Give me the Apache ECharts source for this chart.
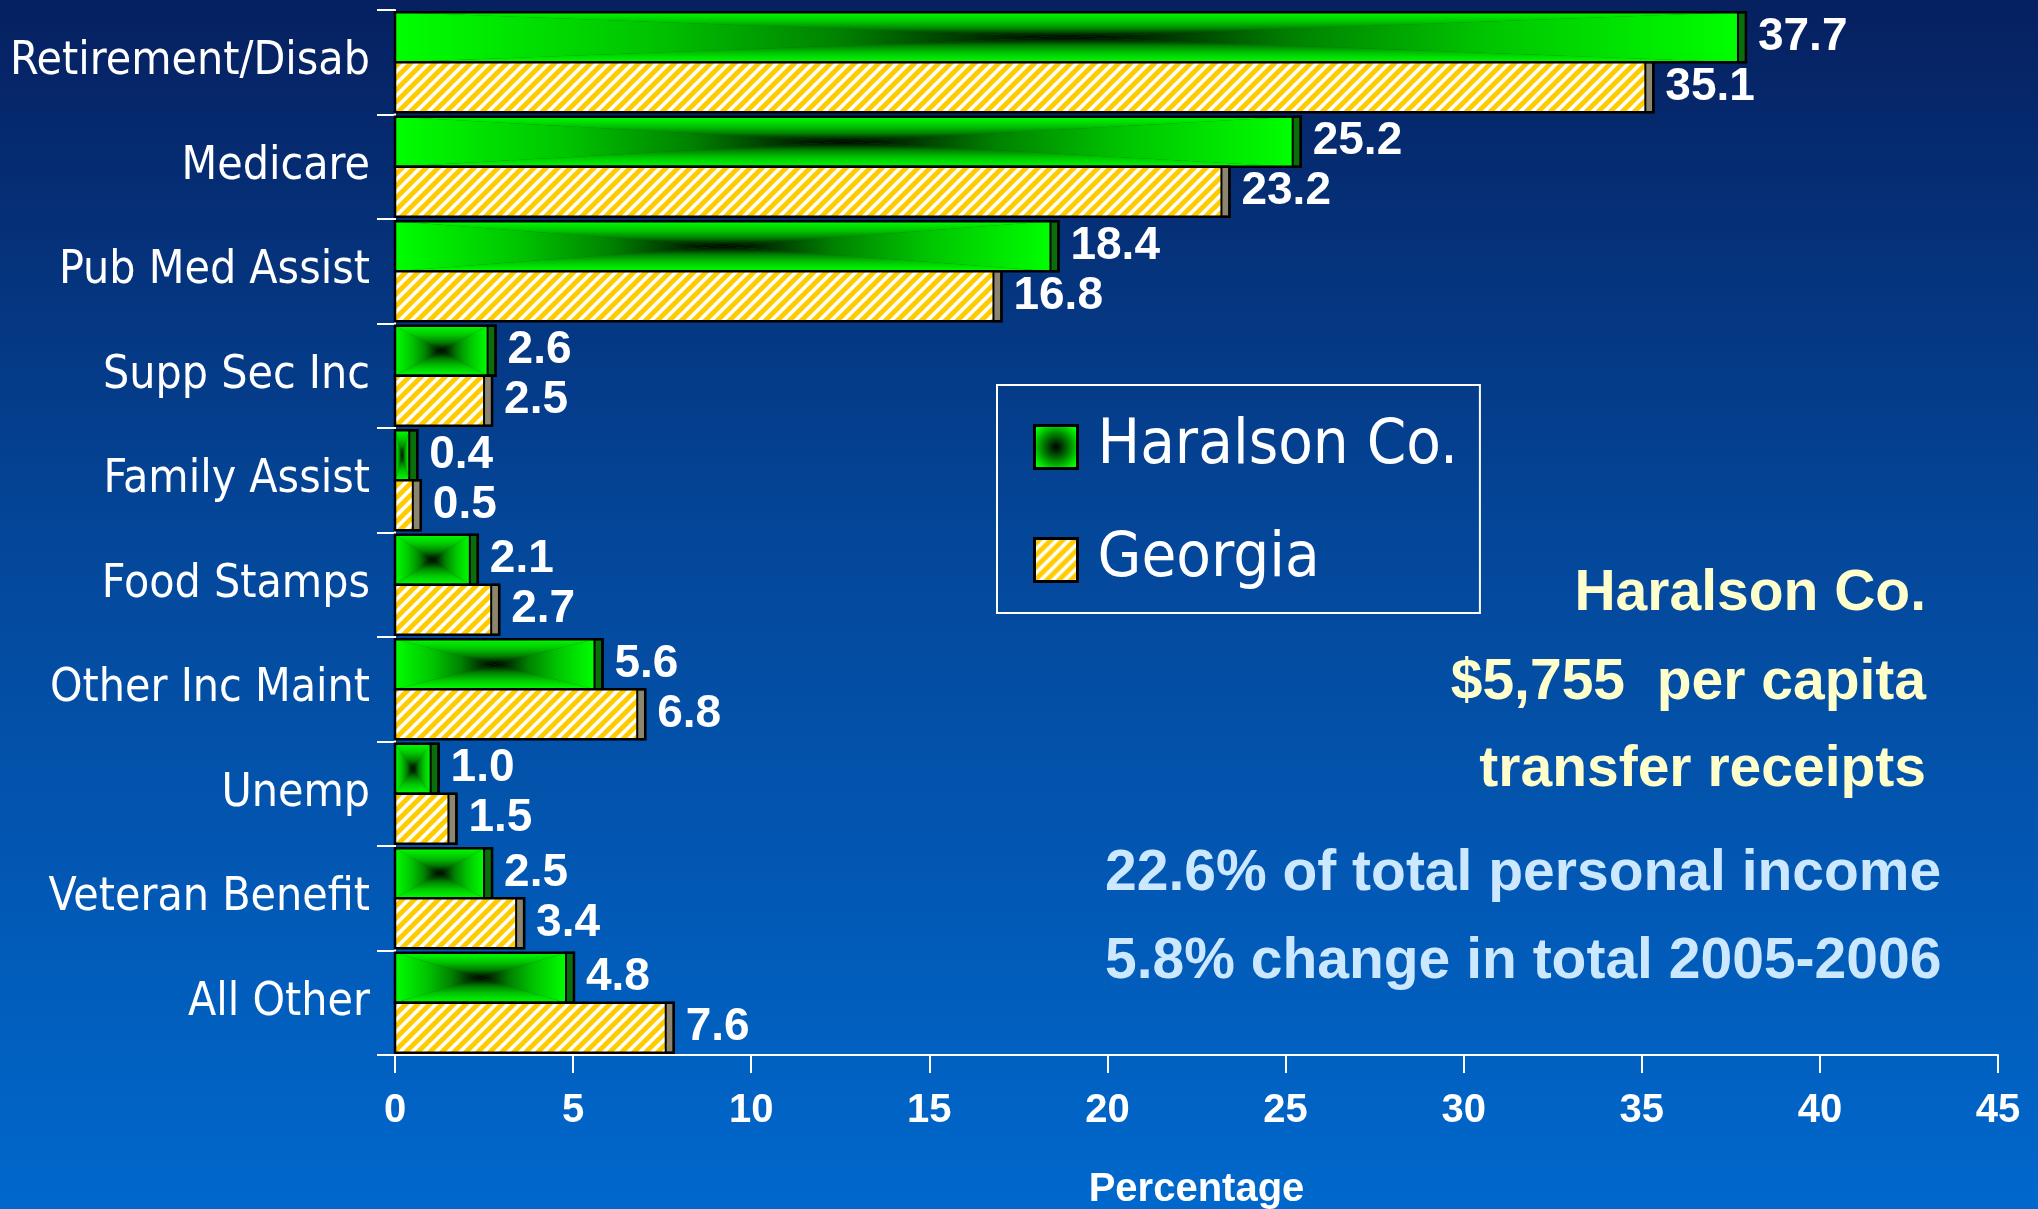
<!DOCTYPE html>
<html><head><meta charset="utf-8">
<script src="https://cdn.jsdelivr.net/npm/echarts@6/dist/echarts.min.js"></script>
<style>html,body{margin:0;padding:0;background:#0450a8}#c{width:2038px;height:1209px}</style>
</head><body><div id="c"></div>
<script>
const categories = ['Retirement/Disab','Medicare','Pub Med Assist','Supp Sec Inc','Family Assist','Food Stamps','Other Inc Maint','Unemp','Veteran Benefit','All Other'];
const haralson = [37.7, 25.2, 18.4, 2.6, 0.4, 2.1, 5.6, 1.0, 2.5, 4.8];
const georgia  = [35.1, 23.2, 16.8, 2.5, 0.5, 2.7, 6.8, 1.5, 3.4, 7.6];
const seriesNames = ['Haralson Co.', 'Georgia'];
const axisMin = 0, axisMax = 45, axisStep = 5;
const axisTitle = 'Percentage';
const noteYellow = ['Haralson Co.', '$5,755  per capita', 'transfer receipts'];
const noteBlue = ['22.6% of total personal income', '5.8% change in total 2005-2006'];

const NARROW = '"Liberation Sans Narrow","Arial Narrow","DejaVu Sans Condensed",sans-serif';
const BOLD = '"Liberation Sans",Arial,sans-serif';

function stripeCanvas(){
  const c = document.createElement('canvas'); c.width = 12; c.height = 12;
  const g = c.getContext('2d');
  g.fillStyle = '#FFCC00'; g.fillRect(0,0,12,12);
  g.strokeStyle = '#ffffff'; g.lineWidth = 3.6;
  g.beginPath();
  g.moveTo(-2,14); g.lineTo(14,-2);
  g.moveTo(-3,3); g.lineTo(3,-3);
  g.moveTo(9,15); g.lineTo(15,9);
  g.stroke();
  return c;
}
const stripePattern = {image: stripeCanvas(), repeat: 'repeat'};
const greenStops = [
  {offset:0, color:'#00ff00'},
  {offset:0.38, color:'#00c400'},
  {offset:0.66, color:'#008200'},
  {offset:0.86, color:'#003300'},
  {offset:1, color:'#000000'}
];
function lin(x,y,x2,y2){ return {type:'linear', x:x, y:y, x2:x2, y2:y2, colorStops: greenStops, global:false}; }
const greenRadial = {type:'radial', x:0.5, y:0.5, r:0.55, colorStops:[{offset:0,color:'#000'},{offset:0.5,color:'#007a00'},{offset:1,color:'#00ff00'}]};

function makeRender(which){
  return function(params, api){
    const v = api.value(0), ci = api.value(1);
    const base = api.coord([0, ci]);
    const end = api.coord([v, ci]);
    const band = api.size([0, 1])[1];
    const h = band * 0.478;
    const y0 = which === 0 ? base[1] - h : base[1];
    const y1 = y0 + h;
    const x0 = base[0], x1 = end[0];
    const depth = 8;
    const kids = [];
    if (which === 0) {
      const cx = (x0 + x1) / 2, cy = (y0 + y1) / 2;
      kids.push({type:'rect', shape:{x:x0,y:y0,width:x1-x0,height:h}, style:{fill:'#007000'}});
      kids.push({type:'polygon', shape:{points:[[x0,y0],[x1,y0],[cx,cy]]}, style:{fill: lin(0,0,0,1)}});
      kids.push({type:'polygon', shape:{points:[[x0,y1],[x1,y1],[cx,cy]]}, style:{fill: lin(0,1,0,0)}});
      kids.push({type:'polygon', shape:{points:[[x0,y0],[x0,y1],[cx,cy]]}, style:{fill: lin(0,0,1,0)}});
      kids.push({type:'polygon', shape:{points:[[x1,y0],[x1,y1],[cx,cy]]}, style:{fill: lin(1,0,0,0)}});
    } else {
      kids.push({type:'rect', shape:{x:x0,y:y0,width:x1-x0,height:h}, style:{fill: stripePattern}});
    }
    kids.push({type:'rect', shape:{x:x1,y:y0,width:depth,height:h},
      style:{fill: which === 0 ? '#0a6e0a' : '#8c8670', stroke:'#000', lineWidth:2}});
    kids.push({type:'rect', shape:{x:x0,y:y0,width:x1-x0+depth,height:h},
      style:{fill:null, stroke:'#000', lineWidth:2.5}});
    kids.push({type:'text', x: x1 + depth + 12, y: (y0 + y1) / 2,
      style:{text: v.toFixed(1), fill:'#ffffff', fontSize:46, fontWeight:'bold', fontFamily:BOLD,
             align:'left', verticalAlign:'middle', textAlign:'left', textVerticalAlign:'middle'}});
    return {type:'group', children: kids};
  };
}

const chart = echarts.init(document.getElementById('c'), null, {renderer:'canvas'});

const graphics = [];
noteYellow.forEach(function(t, i){
  graphics.push({type:'text', x:1926, y:[594,683,770][i],
    style:{text:t, fill:'#FFFFCC', fontSize:57, fontWeight:'bold', fontFamily:BOLD,
      align:'right', verticalAlign:'middle', textAlign:'right', textVerticalAlign:'middle'}});
});
noteBlue.forEach(function(t, i){
  graphics.push({type:'text', x:1105, y:[874,962][i],
    style:{text:t, fill:'#CCE8FF', fontSize:57, fontWeight:'bold', fontFamily:BOLD,
      align:'left', verticalAlign:'middle', textAlign:'left', textVerticalAlign:'middle'}});
});

chart.setOption({
  backgroundColor: {type:'linear', x:0, y:0, x2:0, y2:1, colorStops:[
    {offset:0, color:'#062060'}, {offset:0.45, color:'#04479a'}, {offset:1, color:'#0068cc'}]},
  animation: false,
  grid: {left:395, right:40, top:10, bottom:154, containLabel:false, outerBoundsMode:'none'},
  xAxis: {
    type:'value', min:axisMin, max:axisMax, interval:axisStep,
    name: axisTitle, nameLocation:'middle', nameGap:115,
    nameTextStyle:{color:'#fff', fontSize:40, fontWeight:'bold', fontFamily:BOLD},
    axisLine:{show:true, lineStyle:{color:'#fff', width:2}},
    axisTick:{show:true, length:18, lineStyle:{color:'#fff', width:2}},
    axisLabel:{color:'#fff', fontSize:40, fontWeight:'bold', fontFamily:BOLD, margin:36},
    splitLine:{show:false}
  },
  yAxis: {
    type:'category', data: categories, inverse:true,
    axisLine:{show:true, lineStyle:{color:'#fff', width:2}},
    axisTick:{show:true, length:18, lineStyle:{color:'#fff', width:2}},
    axisLabel:{color:'#fff', fontSize:46, fontFamily:NARROW, margin:25},
    splitLine:{show:false}
  },
  legend: {
    orient:'vertical', left:997, top:385, padding:[28, 22, 19, 36],
    borderColor:'#fff', borderWidth:2, selectedMode:false,
    icon:'rect', itemWidth:43, itemHeight:43, itemGap:45,
    textStyle:{color:'#fff', fontSize:63, lineHeight:68, fontFamily:NARROW, padding:[0,0,0,15]},
    data:[
      {name: seriesNames[0], itemStyle:{color: greenRadial, borderColor:'#000', borderWidth:3}},
      {name: seriesNames[1], itemStyle:{color: stripePattern, borderColor:'#000', borderWidth:3}}
    ]
  },
  graphic: graphics,
  series: [
    {type:'custom', name: seriesNames[0], renderItem: makeRender(0), encode:{x:0, y:1},
     itemStyle:{color: greenRadial}, clip:false,
     data: haralson.map(function(v,i){ return [v, i]; })},
    {type:'custom', name: seriesNames[1], renderItem: makeRender(1), encode:{x:0, y:1},
     itemStyle:{color: stripePattern}, clip:false,
     data: georgia.map(function(v,i){ return [v, i]; })}
  ]
});
</script></body></html>
